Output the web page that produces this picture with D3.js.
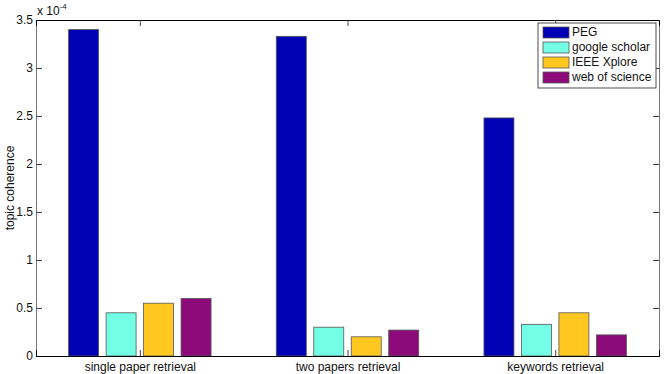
<!DOCTYPE html>
<html>
<head>
<meta charset="utf-8">
<script src="https://cdn.jsdelivr.net/npm/d3@7/dist/d3.min.js"></script>
<style>
  body { margin: 0; background: #fff; }
  svg { display: block; font-family: "Liberation Sans", Arial, sans-serif; }
</style>
</head>
<body>
<div id="chart"></div>
<script>
// Chart data (values in units of 1e-4)
const categories = ['single paper retrieval', 'two papers retrieval', 'keywords retrieval'];
const seriesNames = ['PEG', 'google scholar', 'IEEE Xplore', 'web of science'];
const pegValues = [3.40, 3.33, 2.48];
const scholarValues = [0.45, 0.30, 0.33];
const ieeeValues = [0.55, 0.20, 0.45];
const wosValues = [0.60, 0.27, 0.22];
const yTicks = [0, 0.5, 1, 1.5, 2, 2.5, 3, 3.5];

const seriesValues = [pegValues, scholarValues, ieeeValues, wosValues];
const seriesColors = ['#0000b4', '#72ffe6', '#ffc71f', '#8c0a7a'];

const width = 664, height = 374;
const margin = { top: 20, right: 5, bottom: 18, left: 36 };
const plotW = width - margin.left - margin.right;
const plotH = height - margin.top - margin.bottom;
const fontSize = 12;

const svg = d3.select('#chart')
  .append('svg')
  .attr('width', width)
  .attr('height', height);

const g = svg.append('g')
  .attr('transform', `translate(${margin.left},${margin.top})`);

// x in "group units": groups sit at 1,2,3 with limits 0.5..3.5
const x = d3.scaleLinear().domain([0.5, 3.5]).range([0, plotW]);
const inner = d3.scaleBand()
  .domain(seriesNames)
  .range([-0.361, 0.361])
  .paddingInner(0.2)
  .paddingOuter(0.1);
const y = d3.scaleLinear().domain([0, 3.5]).range([plotH, 0]);

// bars
seriesNames.forEach((name, si) => {
  g.append('g')
    .selectAll('rect')
    .data(seriesValues[si])
    .enter().append('rect')
    .attr('x', (d, i) => x(i + 1 + inner(name)))
    .attr('width', x(inner.bandwidth()) - x(0))
    .attr('y', d => y(d))
    .attr('height', d => plotH - y(d))
    .attr('fill', seriesColors[si])
    .attr('stroke', '#555')
    .attr('stroke-width', 0.8);
});

// axes (inward ticks, box)
const yl = g.append('g')
  .call(d3.axisLeft(y).tickValues(yTicks).tickSize(-6).tickPadding(3)
    .tickFormat(d => d3.format('')(d)));
yl.select('.domain').attr('stroke', '#777');
yl.selectAll('.tick line').attr('stroke', '#444');
yl.selectAll('text').attr('font-size', fontSize).attr('fill', '#111');

const yr = g.append('g').attr('transform', `translate(${plotW},0)`)
  .call(d3.axisRight(y).tickValues(yTicks).tickSize(-6).tickFormat(''));
yr.select('.domain').attr('stroke', '#777');
yr.selectAll('.tick line').attr('stroke', '#444');

const xb = g.append('g').attr('transform', `translate(0,${plotH})`)
  .call(d3.axisBottom(x).tickValues([1, 2, 3]).tickSize(-6).tickPadding(6)
    .tickFormat(d => categories[d - 1]));
xb.select('.domain').attr('stroke', '#000');
xb.selectAll('.tick line').attr('stroke', '#444');
xb.selectAll('text').attr('font-size', fontSize).attr('fill', '#111');

const xt = g.append('g')
  .call(d3.axisTop(x).tickValues([1, 2, 3]).tickSize(-6).tickFormat(''));
xt.select('.domain').attr('stroke', '#000');
xt.selectAll('.tick line').attr('stroke', '#444');

// exponent label
const expo = svg.append('text')
  .attr('x', margin.left + 1)
  .attr('y', 15)
  .attr('font-size', fontSize)
  .attr('fill', '#111');
expo.append('tspan').text('x 10');
expo.append('tspan').attr('dy', -6).attr('font-size', 8).text('-4');

// y label
svg.append('text')
  .attr('transform', `translate(11,${margin.top + plotH / 2}) rotate(-90)`)
  .attr('text-anchor', 'middle')
  .attr('dominant-baseline', 'middle')
  .attr('font-size', fontSize)
  .attr('fill', '#111')
  .text('topic coherence');

// legend
const legend = svg.append('g').attr('transform', 'translate(538,23)');
legend.append('rect')
  .attr('width', 118)
  .attr('height', 65)
  .attr('fill', '#fff')
  .attr('stroke', '#222')
  .attr('stroke-width', 0.8);

seriesNames.forEach((name, i) => {
  legend.append('rect')
    .attr('x', 5)
    .attr('y', 4 + i * 15)
    .attr('width', 26)
    .attr('height', 11)
    .attr('fill', seriesColors[i])
    .attr('stroke', '#555')
    .attr('stroke-width', 0.8);
  legend.append('text')
    .attr('x', 34)
    .attr('y', 10 + i * 15)
    .attr('dominant-baseline', 'middle')
    .attr('font-size', fontSize)
    .attr('fill', '#111')
    .text(name);
});
</script>
</body>
</html>
